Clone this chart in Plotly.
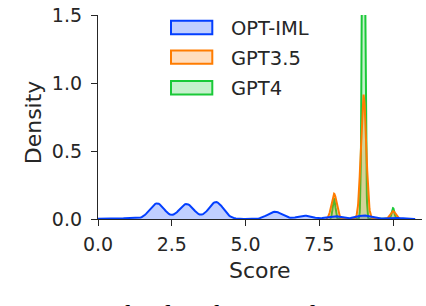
import numpy as np
import plotly.graph_objects as go

# ---- data (counts of each score per model) ----
scores = [0, 1, 2, 3, 4, 5, 6, 7, 8, 9, 10]
models = ["OPT-IML", "GPT3.5", "GPT4"]
opt_iml_counts = [1, 4, 72, 69, 78, 0, 33, 15, 13, 16, 6]
gpt35_counts = [0, 0, 0, 0, 0, 0, 0, 0, 42, 205, 13]
gpt4_counts = [0, 0, 0, 0, 0, 0, 0, 0, 17, 407, 9]
x_ticks = [0.0, 2.5, 5.0, 7.5, 10.0]
y_ticks = [0.0, 0.5, 1.0, 1.5]
caption = "Figure 3: The distribution of scores given by different models."

# ---- styling ----
bandwidth = {"OPT-IML": 0.25, "GPT3.5": 0.09, "GPT4": 0.045}
colors = {"OPT-IML": "#023eff", "GPT3.5": "#ff7c00", "GPT4": "#1ac938"}
fills = {"OPT-IML": "rgba(2,62,255,0.25)", "GPT3.5": "rgba(255,124,0,0.25)",
         "GPT4": "rgba(26,201,56,0.25)"}
counts = {"OPT-IML": opt_iml_counts, "GPT3.5": gpt35_counts, "GPT4": gpt4_counts}

total = sum(sum(c) for c in counts.values())  # common normalisation


def kde(cnts, h, cut=3, gridsize=300):
    s = np.array(scores, dtype=float)
    w = np.array(cnts, dtype=float)
    present = s[w > 0]
    grid = np.linspace(present.min() - cut * h, present.max() + cut * h, gridsize)
    dens = (w[None, :] * np.exp(-0.5 * ((grid[:, None] - s[None, :]) / h) ** 2)).sum(1)
    dens = dens / (h * np.sqrt(2 * np.pi)) / total
    return grid, dens


fig = go.Figure()
for m in reversed(models):
    gx, gy = kde(counts[m], bandwidth[m])
    fig.add_trace(go.Scatter(x=gx, y=gy, mode="lines", fill="tozeroy",
                             fillcolor=fills[m],
                             line=dict(color=colors[m], width=2),
                             showlegend=False, hoverinfo="skip"))

# plot area in px: x 98..422, y 6..219
L, R, T, B = 98, 422, 6, 219
W, H = R - L, B - T


def px(xp):
    return (xp - L) / W


def py(yp):
    return (B - yp) / H


shapes = []
annotations = []
legend_rows = [(12, 26, 20), (43, 57, 51), (75, 89, 83)]
for m, (y0, y1, yt) in zip(models, legend_rows):
    shapes.append(dict(type="rect", xref="paper", yref="paper",
                       x0=px(171), x1=px(212.3), y0=py(y1), y1=py(y0),
                       fillcolor=fills[m], line=dict(color=colors[m], width=2)))
    annotations.append(dict(text=m, xref="paper", yref="paper", x=px(229), y=py(yt),
                            xanchor="left", yanchor="middle", showarrow=False,
                            font=dict(family="DejaVu Sans", size=19.5, color="#262626")))

annotations.append(dict(text="Score", xref="paper", yref="paper", x=px(260), y=py(272.5),
                        xanchor="center", yanchor="middle", showarrow=False,
                        font=dict(family="DejaVu Sans", size=22, color="#262626")))
annotations.append(dict(text="Density", xref="paper", yref="paper", x=px(33), y=py(118),
                        xanchor="center", yanchor="middle", textangle=-90, showarrow=False,
                        font=dict(family="DejaVu Sans", size=22, color="#262626")))
annotations.append(dict(text=caption, xref="paper", yref="paper", x=px(0), y=py(319),
                        xanchor="left", yanchor="middle", showarrow=False,
                        font=dict(family="Liberation Serif", size=27.5, color="#000000")))

axis_common = dict(showgrid=False, zeroline=False, showline=True, linecolor="#262626",
                   linewidth=1.3, ticks="outside", ticklen=6, tickwidth=1.3,
                   tickcolor="#262626", ticklabeloverflow="allow",
                   tickfont=dict(family="DejaVu Sans", size=19, color="#262626"))

fig.update_layout(
    width=426, height=306,
    margin=dict(l=L, r=426 - R, t=T, b=306 - B),
    paper_bgcolor="white", plot_bgcolor="white",
    xaxis=dict(range=[0, 10.98], tickvals=x_ticks, ticklabelstandoff=2,
               ticktext=[f"{v:.1f}" for v in x_ticks], **axis_common),
    yaxis=dict(range=[0, 1.5], tickvals=y_ticks, ticklabelstandoff=5,
               ticktext=[f"{v:.1f}" for v in y_ticks], **axis_common),
    shapes=shapes, annotations=annotations, showlegend=False,
)

fig.write_html("out.html", config={"displayModeBar": False},
               post_script="document.body.style.margin='0px';"
                           "document.body.style.overflow='hidden';")
